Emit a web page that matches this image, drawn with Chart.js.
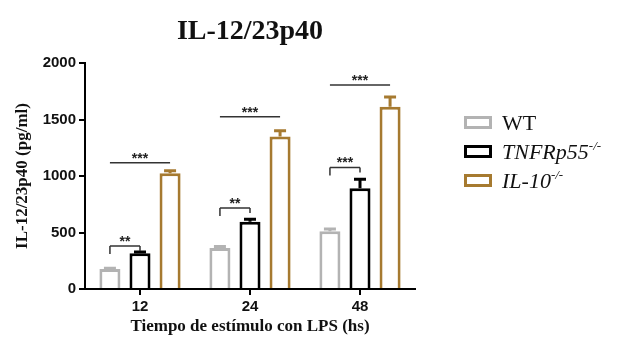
<!DOCTYPE html>
<html lang="es">
<head>
<meta charset="UTF-8">
<title>IL-12/23p40</title>
<script src="https://cdn.jsdelivr.net/npm/chart.js"></script>
<style>
  html, body { margin: 0; padding: 0; background: #fff; }
  .wrap { position: relative; width: 618px; height: 341px; }
  .title {
    position: absolute; left: 150px; width: 200px; top: 14px; text-align: center;
    font: bold 28px "Liberation Serif", "Times New Roman", serif; color: #111;
  }
  .legend { position: absolute; left: 464px; top: 108px; font: 22px "Liberation Serif", "Times New Roman", serif; color: #111; }
  .row { height: 29px; display: flex; align-items: center; }
  .box { width: 22px; height: 7px; border: 3px solid; margin-right: 10px; background: #fff; }
  .row i sup { font-size: 13px; vertical-align: 9px; }
</style>
</head>
<body>
<div class="wrap">
  <canvas id="chart" width="618" height="341"></canvas>
  <div class="title">IL-12/23p40</div>
  <div class="legend" id="legend"></div>
</div>
<script>
  const categories = ['12', '24', '48'];
  const seriesNames = ['WT', 'TNFRp55', 'IL-10'];
  const wtValues = [177, 362, 510];
  const wtErrors = [6, 15, 20];
  const tnfrValues = [316, 596, 891];
  const tnfrErrors = [12, 22, 80];
  const il10Values = [1024, 1350, 1612];
  const il10Errors = [22, 50, 88];
  const yTicks = [0, 500, 1000, 1500, 2000];

  // significance marks: category, from series, to series, height (pg/ml), label, end ticks
  const sigCategory = [0, 0, 1, 1, 2, 2];
  const sigFrom = [0, 0, 0, 0, 0, 0];
  const sigTo = [1, 2, 1, 2, 1, 2];
  const sigHeight = [380, 1118, 717, 1525, 1075, 1805];
  const sigLabel = ['**', '***', '**', '***', '***', '***'];
  const sigTicks = [true, false, true, false, true, false];

  const colors = ['#b3b3b3', '#000000', '#a67a30'];
  const errors = [wtErrors, tnfrErrors, il10Errors];

  const errorBars = {
    id: 'errorBars',
    afterDatasetsDraw(chart) {
      const ctx = chart.ctx;
      const y = chart.scales.y;
      ctx.save();
      chart.data.datasets.forEach((ds, i) => {
        const meta = chart.getDatasetMeta(i);
        meta.data.forEach((bar, j) => {
          const top = y.getPixelForValue(ds.data[j] + errors[i][j]);
          ctx.strokeStyle = colors[i];
          ctx.lineWidth = 3;
          ctx.beginPath();
          ctx.moveTo(bar.x, bar.y);
          ctx.lineTo(bar.x, top);
          ctx.moveTo(bar.x - 6, top);
          ctx.lineTo(bar.x + 6, top);
          ctx.stroke();
        });
      });
      ctx.restore();
    }
  };

  const sigMarks = {
    id: 'sigMarks',
    afterDatasetsDraw(chart) {
      const ctx = chart.ctx;
      const y = chart.scales.y;
      ctx.save();
      ctx.strokeStyle = '#333';
      ctx.fillStyle = '#222';
      ctx.lineWidth = 1.5;
      ctx.font = 'bold 14px "Liberation Sans", Arial, sans-serif';
      ctx.textAlign = 'center';
      ctx.textBaseline = 'bottom';
      sigCategory.forEach((c, k) => {
        const x1 = chart.getDatasetMeta(sigFrom[k]).data[c].x;
        const x2 = chart.getDatasetMeta(sigTo[k]).data[c].x;
        const py = y.getPixelForValue(sigHeight[k]);
        ctx.beginPath();
        ctx.moveTo(x1, py);
        ctx.lineTo(x2, py);
        if (sigTicks[k]) {
          ctx.moveTo(x1, py);
          ctx.lineTo(x1, py + 8);
          ctx.moveTo(x2, py);
          ctx.lineTo(x2, py + 5);
        }
        ctx.stroke();
        ctx.fillText(sigLabel[k], (x1 + x2) / 2, py + 3);
      });
      ctx.restore();
    }
  };

  const tickFont = { family: '"Liberation Sans", Arial, sans-serif', size: 15, weight: 'bold' };
  const titleFont = { family: '"Liberation Serif", "Times New Roman", serif', size: 17, weight: 'bold' };

  new Chart(document.getElementById('chart'), {
    type: 'bar',
    data: {
      labels: categories,
      datasets: [wtValues, tnfrValues, il10Values].map((vals, i) => ({
        label: seriesNames[i],
        data: vals,
        backgroundColor: '#ffffff',
        borderColor: colors[i],
        borderWidth: 3,
        categoryPercentage: 0.82,
        barPercentage: 0.7
      }))
    },
    options: {
      responsive: false,
      animation: false,
      layout: { padding: { left: 8, right: 203, top: 63, bottom: 0 } },
      plugins: { legend: { display: false }, tooltip: { enabled: false } },
      scales: {
        x: {
          afterFit: s => { s.height = 52; },
          grid: { display: true, drawOnChartArea: false, offset: false, tickLength: 6, color: '#000', lineWidth: 2 },
          border: { display: true, color: '#000', width: 2 },
          ticks: { font: tickFont, color: '#111', padding: 3 },
          title: { display: true, text: 'Tiempo de estímulo con LPS (hs)', font: titleFont, color: '#111', padding: 4 }
        },
        y: {
          min: 0, max: 2000,
          afterFit: s => { s.width = 77; },
          afterBuildTicks: s => { s.ticks = yTicks.map(v => ({ value: v })); },
          grid: { display: true, drawOnChartArea: false, tickLength: 6, color: '#000', lineWidth: 2 },
          border: { display: true, color: '#000', width: 2 },
          ticks: { font: tickFont, color: '#111', padding: 3, callback: v => String(v) },
          title: { display: true, text: 'IL-12/23p40 (pg/ml)', font: titleFont, color: '#111', padding: 4 }
        }
      }
    },
    plugins: [errorBars, sigMarks]
  });

  const legendHtml = [
    seriesNames[0],
    '<i>' + seriesNames[1] + '<sup>-/-</sup></i>',
    '<i>' + seriesNames[2] + '<sup>-/-</sup></i>'
  ];
  document.getElementById('legend').innerHTML = legendHtml.map((t, i) =>
    '<div class="row"><span class="box" style="border-color:' + colors[i] + '"></span><span>' + t + '</span></div>'
  ).join('');
</script>
</body>
</html>
